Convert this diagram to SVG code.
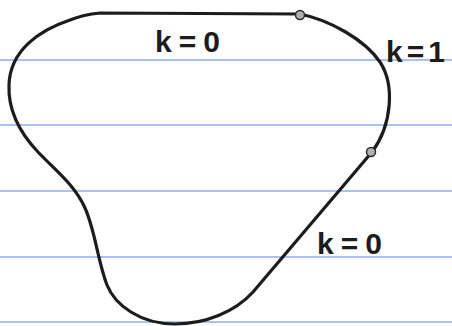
<svg xmlns="http://www.w3.org/2000/svg" width="452" height="326" viewBox="0 0 452 326">
<style>
.rule{stroke:#a9c3ec;stroke-width:2}
.curve{fill:none;stroke:#1c1c1c;stroke-width:3.2;stroke-linejoin:round;stroke-linecap:round}
.knot{fill:#b0b0b0;stroke:#2a2a2a;stroke-width:1.5}
.lbl{font-family:"Liberation Sans",Arial,sans-serif;font-size:30px;font-weight:bold;fill:#1c1c1c;letter-spacing:7px}
</style>
<rect width="452" height="326" fill="#ffffff"/>
<g id="paper">
<line class="rule" x1="0" y1="60" x2="452" y2="60"/>
<line class="rule" x1="0" y1="125" x2="452" y2="125"/>
<line class="rule" x1="0" y1="191" x2="452" y2="191"/>
<line class="rule" x1="0" y1="257" x2="452" y2="257"/>
<line class="rule" x1="0" y1="322" x2="452" y2="322"/>
</g>
<g id="curve">
<path class="curve" d="M 100 13 L 300 14 C 330 20, 365 40, 380 62 C 395 85, 392 125, 372 152 L 253 292 C 235 312, 205 324, 175 324 C 140 324, 115 305, 107 285 C 98 262, 95 230, 85 208 C 75 185, 55 170, 38 152 C 20 133, 8 110, 9 85 C 10 50, 40 30, 70 20 C 80 16, 90 14, 100 13 Z"/>
</g>
<g id="knots">
<circle class="knot" cx="300" cy="15" r="4.5"/>
<circle class="knot" cx="371" cy="152" r="4.5"/>
</g>
<g id="labels">
<text class="lbl" x="155" y="52">k=0</text>
<text class="lbl" x="386" y="62" style="letter-spacing:4px">k=1</text>
<text class="lbl" x="317" y="254">k=0</text>
</g>
</svg>
